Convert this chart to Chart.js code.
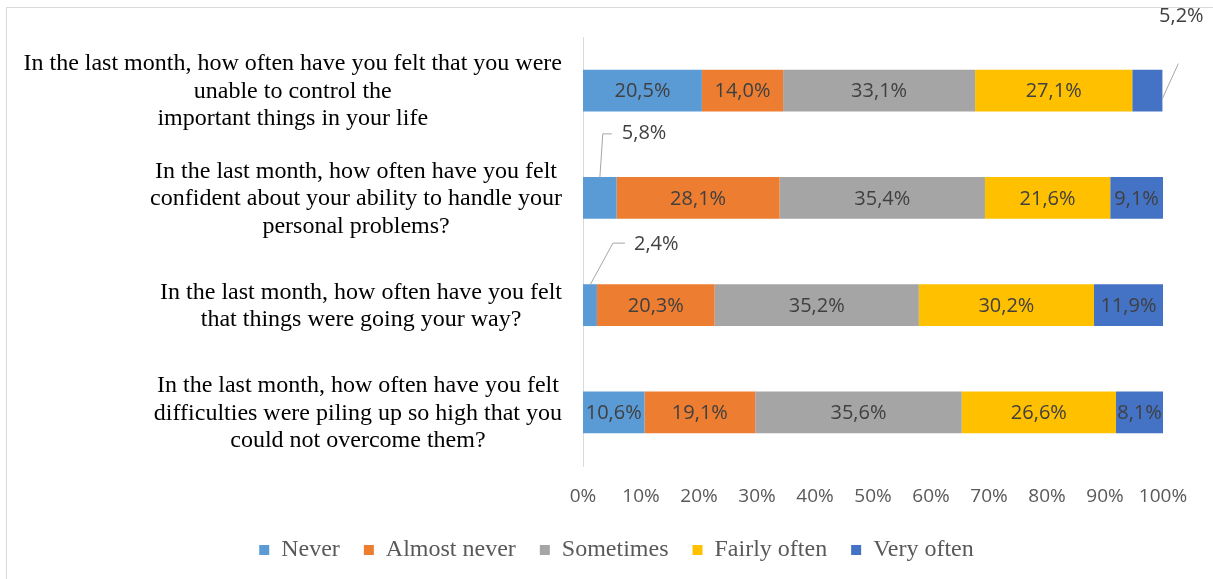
<!DOCTYPE html>
<html>
<head>
<meta charset="utf-8">
<script src="https://cdn.jsdelivr.net/npm/chart.js@4.4.1/dist/chart.umd.min.js"></script>
<style>
  html, body { margin: 0; padding: 0; background: #fff; overflow: hidden; }
  #frame { position: absolute; left: 6px; top: 7px; width: 1400px; height: 800px;
           border-top: 1px solid #d9d9d9; border-left: 1px solid #d9d9d9; }
  #wrap { position: absolute; left: 0; top: 0; width: 1213px; height: 579px; }
</style>
</head>
<body>
<div id="frame"></div>
<div id="wrap"><canvas id="chart" width="1213" height="579"></canvas></div>
<script>
const questions = [
  ['In the last month, how often have you felt that you were', 'unable to control the', 'important things in your life'],
  ['In the last month, how often have you felt', 'confident about your ability to handle your', 'personal problems?'],
  ['In the last month, how often have you felt', 'that things were going your way?'],
  ['In the last month, how often have you felt', 'difficulties were piling up so high that you', 'could not overcome them?']
];
const answers = ['Never', 'Almost never', 'Sometimes', 'Fairly often', 'Very often'];
const never = [20.5, 5.8, 2.4, 10.6];
const almostNever = [14.0, 28.1, 20.3, 19.1];
const sometimes = [33.1, 35.4, 35.2, 35.6];
const fairlyOften = [27.1, 21.6, 30.2, 26.6];
const veryOften = [5.2, 9.1, 11.9, 8.1];
const percentTicks = [0, 10, 20, 30, 40, 50, 60, 70, 80, 90, 100];

const colors = ['#5B9BD5', '#ED7D31', '#A5A5A5', '#FFC000', '#4472C4'];
const series = [never, almostNever, sometimes, fairlyOften, veryOften];

const fmt = v => v.toFixed(1).replace('.', ',') + '%';

// small segments get their label outside, on a leader line (offsets from segment centre)
const callouts = [
  { ds: 4, i: 0, line: [[15, 7], [31, -28]], text: [34, -75], align: 'center' },
  { ds: 0, i: 1, line: [[0, -21], [3, -65], [12, -65]], text: [22, -66], align: 'left' },
  { ds: 0, i: 2, line: [[0, -21], [23, -63], [35, -63]], text: [44, -62], align: 'left' }
];

const valueLabels = {
  id: 'valueLabels',
  afterDatasetsDraw(chart) {
    const ctx = chart.ctx;
    ctx.save();
    ctx.font = '20px "Open Sans"';
    ctx.fillStyle = '#404040';
    ctx.textBaseline = 'middle';
    chart.data.datasets.forEach((ds, d) => {
      chart.getDatasetMeta(d).data.forEach((bar, i) => {
        const cx = (bar.x + bar.base) / 2;
        const cy = bar.y + 1;
        const c = callouts.find(o => o.ds === d && o.i === i);
        if (c) {
          ctx.strokeStyle = '#a6a6a6';
          ctx.lineWidth = 1;
          ctx.beginPath();
          c.line.forEach(([dx, dy], k) => {
            if (k === 0) ctx.moveTo(cx + dx, cy + dy);
            else ctx.lineTo(cx + dx, cy + dy);
          });
          ctx.stroke();
          ctx.textAlign = c.align;
          ctx.fillText(fmt(ds.data[i]), cx + c.text[0], cy + c.text[1]);
        } else {
          ctx.textAlign = 'center';
          ctx.fillText(fmt(ds.data[i]), cx, cy);
        }
      });
    });
    ctx.restore();
  }
};

// question text to the left of the axis, each block centred on its widest line
const questionLabels = {
  id: 'questionLabels',
  afterDraw(chart) {
    const ctx = chart.ctx;
    const yScale = chart.scales.y;
    const right = chart.chartArea.left - 21;
    const lineH = 27.5;
    ctx.save();
    ctx.font = '24px "Liberation Serif"';
    ctx.fillStyle = '#000';
    ctx.textAlign = 'center';
    ctx.textBaseline = 'middle';
    chart.data.labels.forEach((lines, i) => {
      const cy = yScale.getPixelForValue(i) + 1;
      const w = Math.max(...lines.map(s => ctx.measureText(s).width));
      const cx = right - w / 2;
      lines.forEach((s, j) => {
        ctx.fillText(s, cx, cy + (j - (lines.length - 1) / 2) * lineH);
      });
    });
    ctx.restore();
  }
};

new Chart(document.getElementById('chart'), {
  type: 'bar',
  data: {
    labels: questions,
    datasets: answers.map((name, k) => ({
      label: name,
      data: series[k],
      backgroundColor: colors[k],
      borderWidth: 0,
      barPercentage: 0.39,
      categoryPercentage: 1
    }))
  },
  options: {
    indexAxis: 'y',
    responsive: false,
    animation: false,
    layout: { padding: { top: 37, right: 50, bottom: 15, left: 70 } },
    scales: {
      x: {
        stacked: true,
        min: 0,
        max: 100,
        afterBuildTicks: scale => { scale.ticks = percentTicks.map(v => ({ value: v })); },
        afterFit: scale => { scale.height = 48; },
        grid: { display: false, drawTicks: false },
        border: { display: false },
        ticks: {
          padding: 19,
          color: '#595959',
          font: { family: 'Open Sans', size: 19 },
          callback: v => v + '%'
        }
      },
      y: {
        stacked: true,
        afterFit: scale => { scale.width = 513; },
        grid: { display: false, drawTicks: false },
        border: { display: true, color: '#d9d9d9', width: 1 },
        ticks: { display: false }
      }
    },
    plugins: {
      tooltip: { enabled: false },
      legend: {
        position: 'bottom',
        maxHeight: 50,
        labels: {
          boxWidth: 10,
          boxHeight: 10,
          padding: 24,
          color: '#595959',
          font: { family: 'Liberation Serif', size: 24 }
        }
      }
    }
  },
  plugins: [valueLabels, questionLabels]
});
</script>
</body>
</html>
